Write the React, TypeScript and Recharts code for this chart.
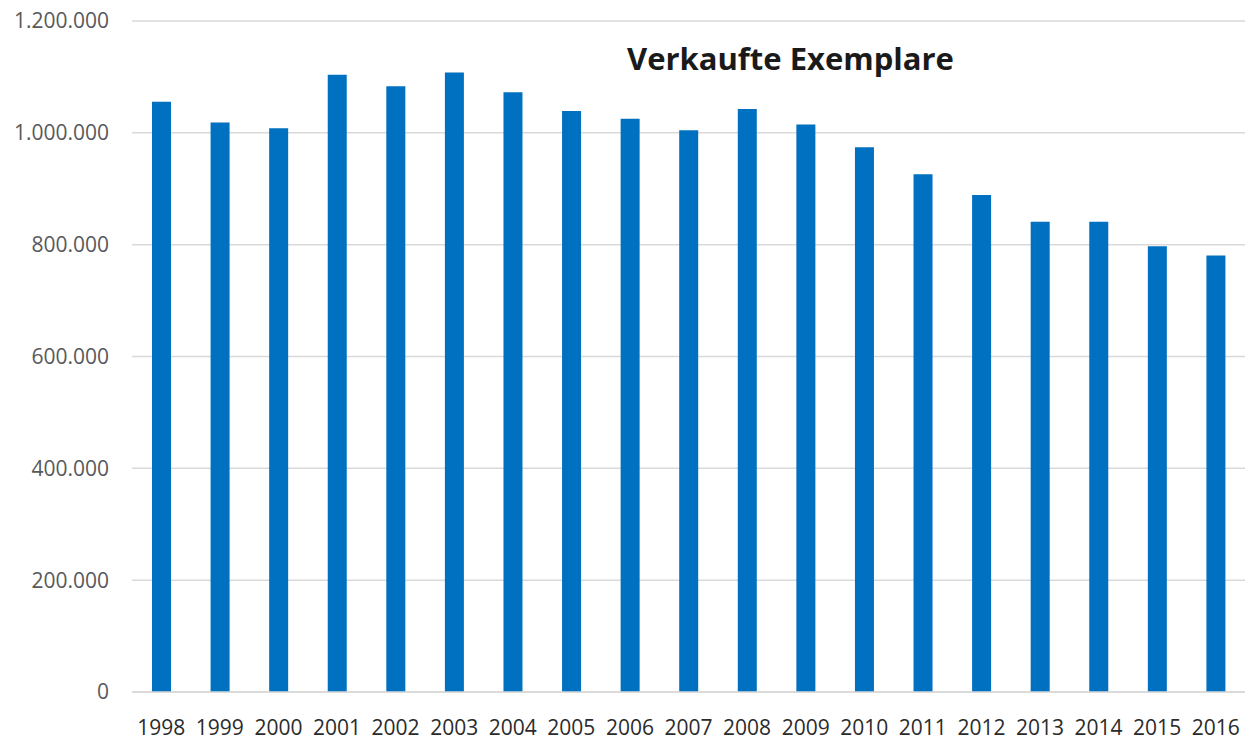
import { BarChart, Bar, XAxis, YAxis, CartesianGrid } from "recharts";

const years = [
  "1998", "1999", "2000", "2001", "2002", "2003", "2004", "2005", "2006", "2007",
  "2008", "2009", "2010", "2011", "2012", "2013", "2014", "2015", "2016",
];

const sold = [
  1055500, 1018300, 1008300, 1104000, 1083300, 1108100, 1072700, 1039000, 1025400, 1004700,
  1042500, 1014800, 974000, 926100, 888900, 841000, 841000, 797300, 780800,
];

const yTicks = [0, 200000, 400000, 600000, 800000, 1000000, 1200000];

const chartTitle = "Verkaufte Exemplare";

// German thousands separator
const fmt = (v: number) => String(v).replace(/\B(?=(\d{3})+(?!\d))/g, ".");

export default function App() {
  const data = years.map((year, i) => ({ year, value: sold[i] }));

  return (
    <div style={{ position: "absolute", left: 0, top: 0, width: 1246, height: 742, background: "#fff" }}>
      <BarChart
        width={1246}
        height={742}
        data={data}
        margin={{ top: 21, right: 1, left: 0, bottom: 0 }}
        style={{ fontFamily: "'Open Sans', sans-serif" }}
      >
        <CartesianGrid vertical={false} stroke="#d9d9d9" strokeWidth={1.5} />
        <XAxis
          dataKey="year"
          height={50}
          axisLine={{ stroke: "#d9d9d9", strokeWidth: 1.5 }}
          tickLine={false}
          tickSize={0}
          tickMargin={28}
          interval={0}
          tick={{ fontSize: 21, fill: "#2b2b2b" }}
        />
        <YAxis
          width={132}
          domain={[0, 1200000]}
          ticks={yTicks}
          tickFormatter={fmt}
          axisLine={false}
          tickLine={false}
          tickSize={0}
          tickMargin={23}
          tick={{ fontSize: 21, fill: "#595959" }}
        />
        <Bar dataKey="value" fill="#0070c0" barSize={19} isAnimationActive={false} />
      </BarChart>
      <svg
        width={1246}
        height={742}
        style={{ position: "absolute", left: 0, top: 0, pointerEvents: "none" }}
      >
        <text
          x={627}
          y={70}
          fontFamily="'Open Sans', sans-serif"
          fontWeight={700}
          fontSize={31}
          fill="#1a1a1a"
        >
          {chartTitle}
        </text>
      </svg>
    </div>
  );
}
